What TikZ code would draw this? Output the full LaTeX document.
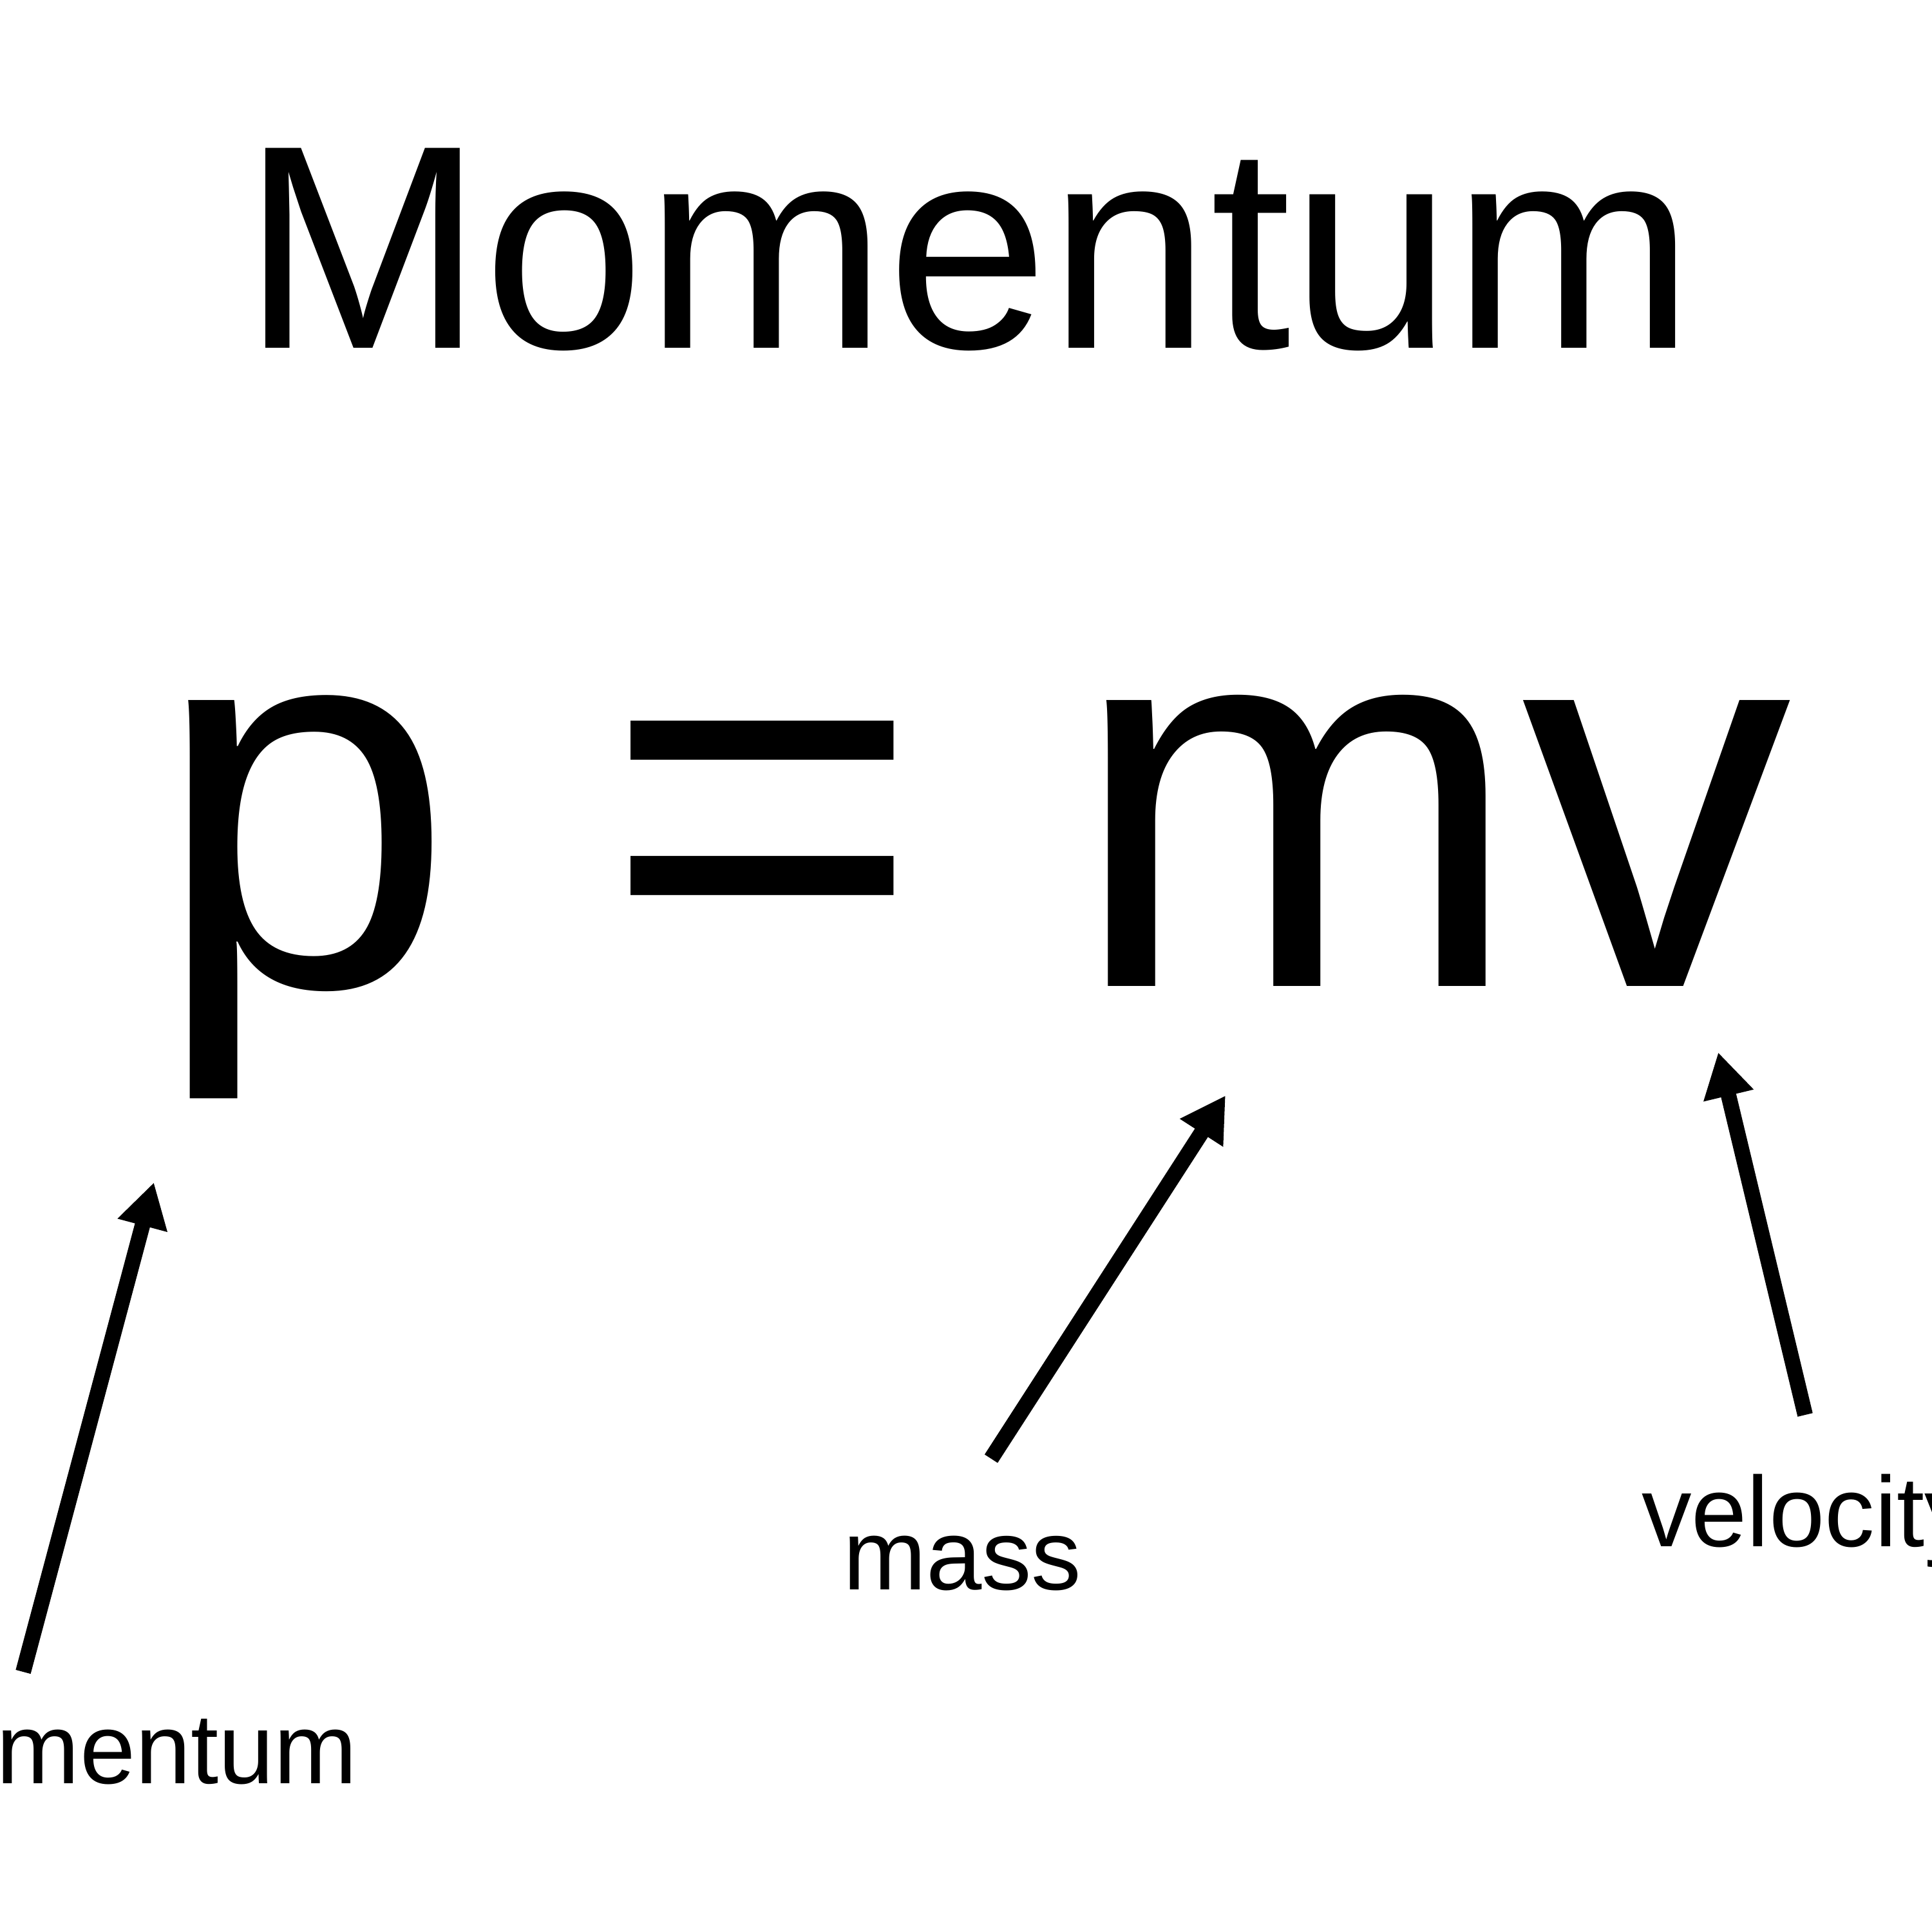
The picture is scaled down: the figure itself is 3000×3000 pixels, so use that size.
\documentclass[tikz,border=0pt]{standalone}
\usepackage{fontspec}
\setmainfont{Liberation Sans}
\usetikzlibrary{arrows.meta}
\tikzset{
  txt/.style={inner sep=0pt, outer sep=0pt, anchor=base west, text=black},
  titletxt/.style={txt, font=\fontsize{128.3}{150}\selectfont},
  eqtxt/.style={txt, font=\fontsize{239}{280}\selectfont},
  lbltxt/.style={txt, font=\fontsize{44.1}{52}\selectfont},
  pointer/.style={line width=0.24cm, -{Triangle[length=0.69cm, width=0.75cm]}}
}
\begin{document}
\begin{tikzpicture}[x=0.01cm, y=-0.01cm]
\useasboundingbox (0,0) rectangle (3000,3000);
\node[titletxt] (title) at (375,540) {Momentum};
\node[eqtxt] (eq) at (238,1531) {p = mv};
\node[lbltxt] (lmom) at (-5,2769) {mentum};
\node[lbltxt] (lmass) at (1309,2468) {mass};
\node[lbltxt] (lvel) at (2549,2401) {velocity};
\coordinate (tmom) at (36,2596);
\coordinate (hmom) at (239,1836);
\coordinate (tmass) at (1539,2265);
\coordinate (hmass) at (1903,1701);
\coordinate (tvel) at (2803,2197);
\coordinate (hvel) at (2668,1634);
\draw[pointer] (tmom) -- (hmom);
\draw[pointer] (tmass) -- (hmass);
\draw[pointer] (tvel) -- (hvel);
\end{tikzpicture}
\end{document}
